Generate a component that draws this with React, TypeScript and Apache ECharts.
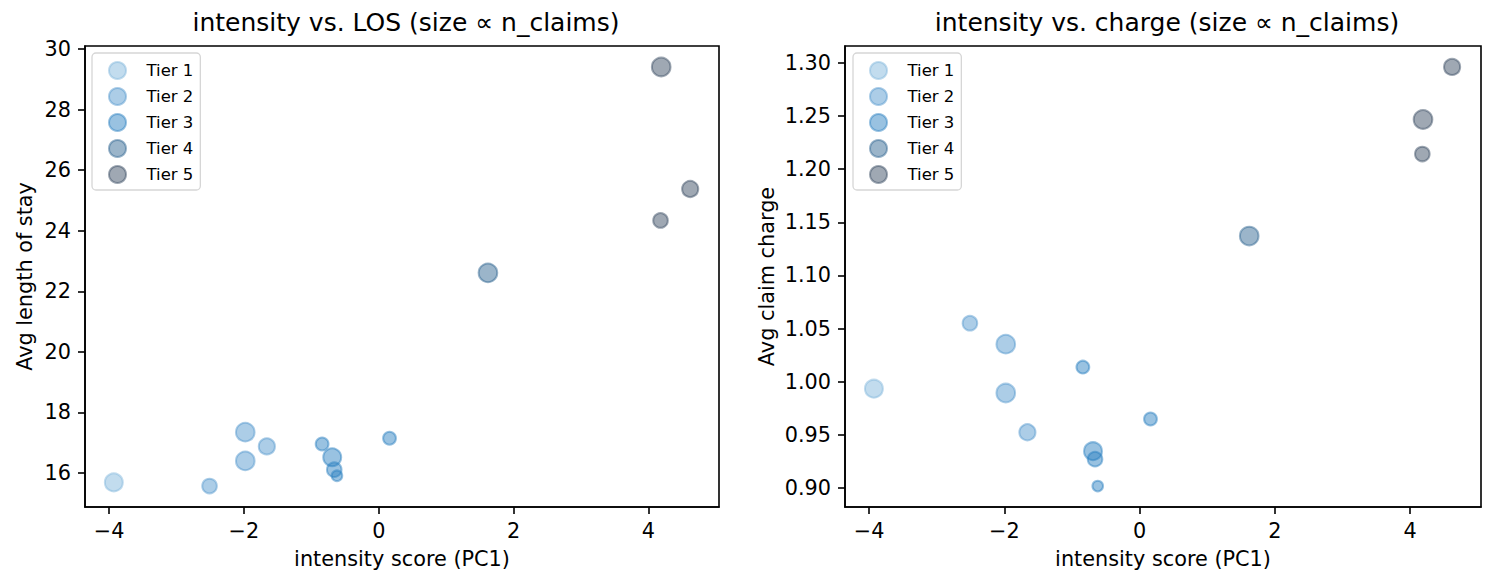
import React, { useEffect, useRef } from 'react';
import * as echarts from 'echarts';

const tierNames = ['Tier 1', 'Tier 2', 'Tier 3', 'Tier 4', 'Tier 5'];
const pointTier = [1, 2, 2, 2, 2, 3, 3, 3, 3, 3, 4, 5, 5, 5];
const intensity = [-3.93, -2.51, -1.98, -1.98, -1.66, -0.84, -0.69, -0.66, -0.62, 0.16, 1.62, 4.19, 4.62, 4.18];
const avgLOS = [15.69, 15.57, 17.35, 16.40, 16.88, 16.96, 16.52, 16.11, 15.91, 17.15, 22.61, 29.41, 25.38, 24.34];
const avgCharge = [0.9935, 1.0551, 1.0354, 0.9894, 0.9525, 1.0138, 0.9347, 0.9272, 0.9019, 0.965, 1.1371, 1.2468, 1.2962, 1.2143];
const nClaims = [74, 49, 80, 80, 60, 38, 74, 49, 26, 38, 80, 80, 60, 49];

const xTicks = [-4, -2, 0, 2, 4];
const losTicks = [16, 18, 20, 22, 24, 26, 28, 30];
const chargeTicks = [0.9, 0.95, 1.0, 1.05, 1.1, 1.15, 1.2, 1.25, 1.3];

const tierRgb = ['128,182,220', '82,150,205', '42,127,192', '45,100,145', '55,74,96'];
const FONT = 'DejaVu Sans';

function padRange(vals: number[]) {
  const lo = Math.min(...vals);
  const hi = Math.max(...vals);
  const r = hi - lo;
  return [lo - 0.05 * r, hi + 0.05 * r];
}

const fmtNum = (v: number, dec: number) => {
  const s = Math.abs(v).toFixed(dec);
  return v < 0 ? '\u2212' + s : s;
};

export default function App() {
  const ref = useRef<HTMLDivElement>(null);
  useEffect(() => {
    document.body.style.margin = '0';
    const chart = echarts.init(ref.current!, null, { renderer: 'svg' });
    const [xMin, xMax] = padRange(intensity);
    const [lMin, lMax] = padRange(avgLOS);
    const [cMin, cMax] = padRange(avgCharge);

    const axisCommon = {
      type: 'value',
      splitLine: { show: false },
      axisLine: { show: true, onZero: false, lineStyle: { color: '#000', width: 1.6 } },
      axisTick: { show: true, inside: false, length: 7, lineStyle: { color: '#000', width: 1.6 } },
      nameTextStyle: { fontFamily: FONT, fontSize: 20.8, color: '#000' },
    };
    const xAxis = (gi: number) => ({
      ...axisCommon,
      gridIndex: gi,
      min: xMin,
      max: xMax,
      name: 'intensity score (PC1)',
      nameLocation: 'middle',
      nameGap: 41,
      axisTick: { ...axisCommon.axisTick, customValues: xTicks },
      axisLabel: {
        customValues: xTicks,
        margin: 13,
        fontFamily: FONT,
        fontSize: 20.8,
        color: '#000',
        formatter: (v: number) => fmtNum(v, 0),
      },
    });
    const yAxis = (gi: number, min: number, max: number, ticks: number[], name: string, dec: number, gap: number) => ({
      ...axisCommon,
      gridIndex: gi,
      min,
      max,
      name,
      nameLocation: 'middle',
      nameGap: gap,
      nameRotate: 90,
      axisTick: { ...axisCommon.axisTick, customValues: ticks },
      axisLabel: {
        customValues: ticks,
        margin: 14,
        fontFamily: FONT,
        fontSize: 20.8,
        color: '#000',
        formatter: (v: number) => fmtNum(v, dec),
      },
    });

    const series: any[] = [];
    [0, 1].forEach((gi) => {
      tierNames.forEach((tn, ti) => {
        const data: number[][] = [];
        pointTier.forEach((t, i) => {
          if (t === ti + 1) data.push([intensity[i], gi === 0 ? avgLOS[i] : avgCharge[i], nClaims[i]]);
        });
        series.push({
          type: 'scatter',
          name: tn,
          xAxisIndex: gi,
          yAxisIndex: gi,
          data,
          symbol: 'circle',
          symbolSize: (v: number[]) => Math.sqrt(v[2]) * 2.083,
          itemStyle: {
            color: `rgba(${tierRgb[ti]},0.6)`,
            borderColor: `rgba(${tierRgb[ti]},0.6)`,
            borderWidth: 2,
          },
          emphasis: { disabled: true },
        });
      });
    });

    const legend = (left: number) => ({
      orient: 'vertical',
      left,
      top: 53,
      padding: [8, 7, 6, 16],
      itemWidth: 18,
      itemHeight: 17,
      itemGap: 7,
      icon: 'circle',
      data: tierNames,
      backgroundColor: '#fff',
      borderColor: '#d6d6d6',
      borderWidth: 1.3,
      borderRadius: 4,
      itemStyle: { borderWidth: 2 },
      textStyle: { fontFamily: FONT, fontSize: 16.5, color: '#000', lineHeight: 17, padding: [0, 0, 0, 15] },
    });

    chart.setOption({
      animation: false,
      backgroundColor: '#fff',
      title: [
        {
          text: 'intensity vs. LOS (size \u221d n_claims)',
          left: 401,
          top: 5,
          textAlign: 'center',
          textStyle: { fontFamily: FONT, fontSize: 25, fontWeight: 'normal', color: '#000' },
        },
        {
          text: 'intensity vs. charge (size \u221d n_claims)',
          left: 1162,
          top: 5,
          textAlign: 'center',
          textStyle: { fontFamily: FONT, fontSize: 25, fontWeight: 'normal', color: '#000' },
        },
      ],
      grid: [
        { left: 85, top: 46, width: 634, height: 461, show: true, borderColor: '#000', borderWidth: 1.6, backgroundColor: 'transparent' },
        { left: 845, top: 46, width: 636, height: 461, show: true, borderColor: '#000', borderWidth: 1.6, backgroundColor: 'transparent' },
      ],
      legend: [legend(92), legend(853)],
      xAxis: [xAxis(0), xAxis(1)],
      yAxis: [
        yAxis(0, lMin, lMax, losTicks, 'Avg length of stay', 0, 50),
        yAxis(1, cMin, cMax, chargeTicks, 'Avg claim charge', 2, 68),
      ],
      series,
    });
    return () => chart.dispose();
  }, []);
  return <div ref={ref} style={{ width: 1494, height: 586 }} />;
}
